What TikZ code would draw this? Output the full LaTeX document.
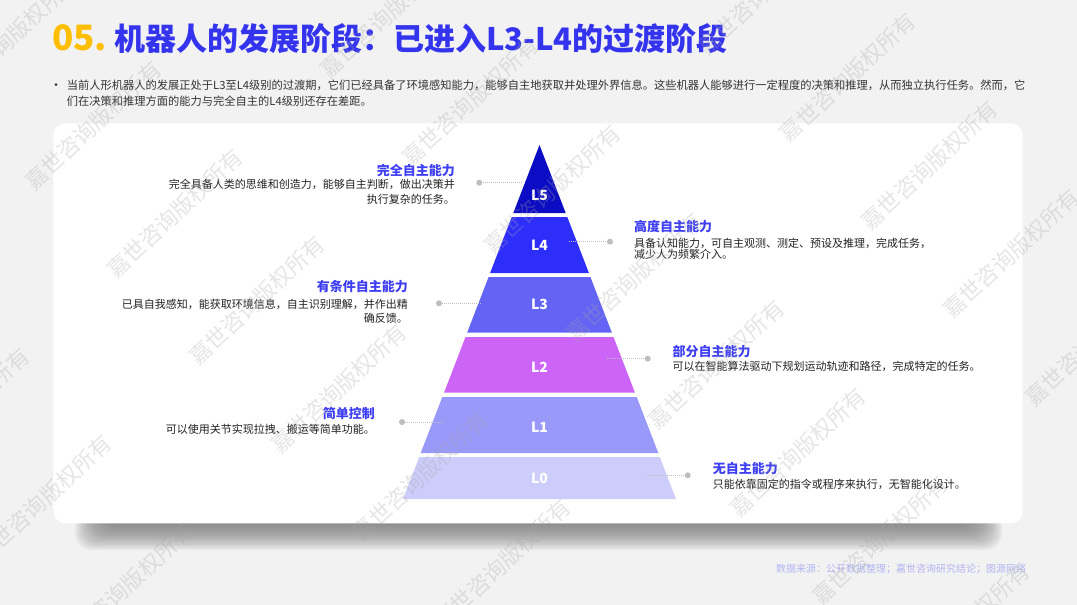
\documentclass[tikz,border=0pt]{standalone}
\usepackage{fontspec}
\setmainfont{Noto Sans CJK SC}
\definecolor{bg}{RGB}{242,242,242}
\definecolor{gold}{RGB}{255,190,0}
\definecolor{tblue}{RGB}{52,52,238}
\definecolor{lblue}{RGB}{62,62,242}
\definecolor{txt}{RGB}{34,34,34}
\definecolor{itxt}{RGB}{51,51,51}
\definecolor{shade}{RGB}{150,150,215}
\definecolor{cfive}{RGB}{12,12,196}
\definecolor{cfour}{RGB}{46,46,250}
\definecolor{cthree}{RGB}{100,100,244}
\definecolor{ctwo}{RGB}{205,100,248}
\definecolor{cone}{RGB}{153,153,250}
\definecolor{czero}{RGB}{205,205,251}
\definecolor{dotc}{RGB}{190,190,190}
\definecolor{srcc}{RGB}{180,180,242}
\definecolor{wmc}{RGB}{165,165,165}
\tikzset{
  ttl/.style={inner sep=0pt, font=\fontsize{13}{15}\selectfont\bfseries, text=lblue},
  dsc/.style={inner sep=0pt, font=\fontsize{11}{13}\selectfont, text=txt},
  lvl/.style={inner sep=0pt, font=\fontsize{14}{16}\selectfont\bfseries, text=white},
  dotnode/.style={circle, fill=dotc, inner sep=0pt, minimum size=6pt},
  conn/.style={draw=dotc, line width=0.7pt, dash pattern=on 1pt off 1pt},
  wmark/.style={inner sep=0pt, rotate=43, text=wmc, text opacity=0.28, font=\fontsize{22}{24}\selectfont}
}
\begin{document}
\begin{tikzpicture}[x=1pt,y=-1pt]
\useasboundingbox (0,0) rectangle (1077,605);
\clip (0,0) rectangle (1077,605);
\fill[bg] (0,0) rectangle (1077,605);
% shadow
\foreach \i in {0,...,19}{
  \fill[shade, opacity=0.035, rounded corners=16] (75+1.5*\i,150) rectangle (1002-1.5*\i,550-1.3*\i);
}
% card
\fill[white, rounded corners=12] (53.3,123.3) rectangle (1022.7,523.3);
% title
\node[anchor=base west, inner sep=0pt] (title) at (52,50)
  {\fontsize{35}{40}\selectfont\bfseries\color{gold}05.\hspace{7pt}\fontsize{31}{36}\selectfont\color{tblue}机器人的发展阶段：已进入L3-L4的过渡阶段};
% intro
\node[circle, fill=itxt, inner sep=0pt, minimum size=3pt] (bul) at (56,84.5) {};
\node[anchor=base west, inner sep=0pt, font=\fontsize{11.25}{13}\selectfont, text=itxt] (introa) at (66.7,89.2)
  {当前人形机器人的发展正处于L3至L4级别的过渡期，它们已经具备了环境感知能力，能够自主地获取并处理外界信息。这些机器人能够进行一定程度的决策和推理，从而独立执行任务。然而，它};
\node[anchor=base west, inner sep=0pt, font=\fontsize{11.25}{13}\selectfont, text=itxt] (introb) at (66.7,105.9)
  {们在决策和推理方面的能力与完全自主的L4级别还存在差距。};
% pyramid layers
\fill[cfive] (539.5,145) -- (565.7,213) -- (513.3,213) -- cycle;
\fill[cfour] (511.7,217) -- (567.3,217) -- (588.9,273) -- (490.1,273) -- cycle;
\fill[cthree] (488.6,277) -- (590.4,277) -- (611.8,332.5) -- (467.2,332.5) -- cycle;
\fill[ctwo] (465.5,337) -- (613.5,337) -- (634.9,392.5) -- (444.1,392.5) -- cycle;
\fill[cone] (442.3,397) -- (636.7,397) -- (658.3,453) -- (420.7,453) -- cycle;
\fill[czero] (419.2,457) -- (659.8,457) -- (676,499) -- (403,499) -- cycle;
\node[lvl] (l5) at (539.5,195) {L5};
\node[lvl] (l4) at (539.5,245) {L4};
\node[lvl] (l3) at (539.5,304) {L3};
\node[lvl] (l2) at (539.5,367) {L2};
\node[lvl] (l1) at (539.5,427) {L1};
\node[lvl] (l0) at (539.5,478) {L0};
% connectors
\node[dotnode] (p5) at (479.3,182.7) {};
\coordinate (q5) at (521.7,182.7);
\draw[conn] (p5) -- (q5);
\node[dotnode] (p4) at (610,241.7) {};
\coordinate (q4) at (569,241.7);
\draw[conn] (q4) -- (p4);
\node[dotnode] (p3) at (439,303.3) {};
\coordinate (q3) at (480.7,303.3);
\draw[conn] (p3) -- (q3);
\node[dotnode] (p2) at (647.7,358.7) {};
\coordinate (q2) at (607.3,358.7);
\draw[conn] (q2) -- (p2);
\node[dotnode] (p1) at (402,422) {};
\coordinate (q1) at (444.3,422);
\draw[conn] (p1) -- (q1);
\node[dotnode] (p0) at (687.7,475.3) {};
\coordinate (q0) at (647.3,475.3);
\draw[conn] (q0) -- (p0);
% texts
\node[ttl, anchor=base east] (t5) at (455,175) {完全自主能力};
\node[dsc, anchor=base east] (d5a) at (455,188.5) {完全具备人类的思维和创造力，能够自主判断，做出决策并};
\node[dsc, anchor=base east] (d5b) at (455,203.2) {执行复杂的任务。};
\node[ttl, anchor=base west] (t4) at (634,231) {高度自主能力};
\node[dsc, anchor=base west] (d4a) at (634,247.3) {具备认知能力，可自主观测、测定、预设及推理，完成任务，};
\node[dsc, anchor=base west] (d4b) at (634,258.8) {减少人为频繁介入。};
\node[ttl, anchor=base east] (t3) at (408,291.6) {有条件自主能力};
\node[dsc, anchor=base east] (d3a) at (408,308.2) {已具自我感知，能获取环境信息，自主识别理解，并作出精};
\node[dsc, anchor=base east] (d3b) at (408,322.9) {确反馈。};
\node[ttl, anchor=base west] (t2) at (672.3,356.6) {部分自主能力};
\node[dsc, anchor=base west] (d2a) at (672.3,370.9) {可以在智能算法驱动下规划运动轨迹和路径，完成特定的任务。};
\node[ttl, anchor=base east] (t1) at (375,418.2) {简单控制};
\node[dsc, anchor=base east] (d1a) at (375,433.5) {可以使用关节实现拉拽、搬运等简单功能。};
\node[ttl, anchor=base west] (t0) at (712.7,473.2) {无自主能力};
\node[dsc, anchor=base west] (d0a) at (712.7,488.5) {只能依靠固定的指令或程序来执行，无智能化设计。};
% source
\node[anchor=base west, inner sep=0pt, font=\fontsize{10}{12}\selectfont, text=srcc] (src) at (776,572.6) {数据来源：公开数据整理；嘉世咨询研究结论；图源网络};
% watermark
\foreach \i in {-2,...,5}{
  \foreach \j in {-4,...,9}{
    \pgfmathsetmacro\wx{175+213.5*\i+81.9*\j}
    \pgfmathsetmacro\wy{213-199.1*\i+87.7*\j}
    \pgfmathtruncatemacro\inside{(\wx>-60)&&(\wx<1140)&&(\wy>-45)&&(\wy<650)}
    \ifnum\inside=1
      \node[wmark] (wm-\i-\j) at (\wx,\wy) {嘉世咨询版权所有};
    \fi
  }
}
\end{tikzpicture}
\end{document}
